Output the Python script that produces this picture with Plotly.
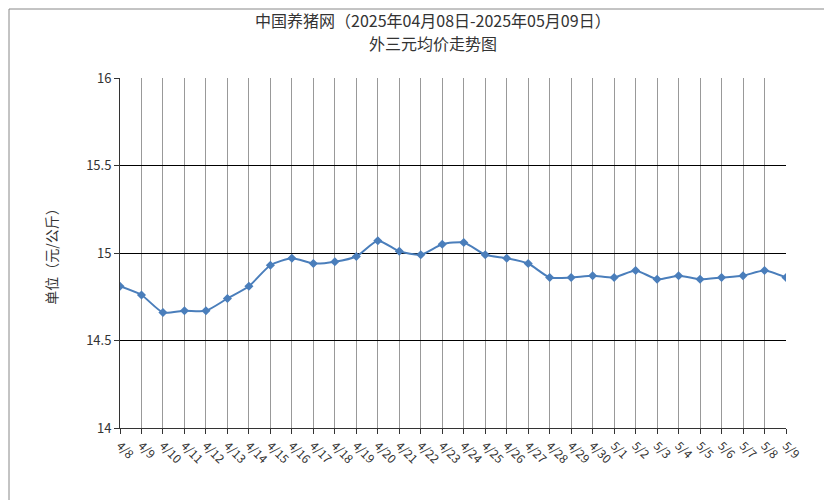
import plotly.graph_objects as go

dates = ["4/8","4/9","4/10","4/11","4/12","4/13","4/14","4/15","4/16","4/17","4/18","4/19","4/20","4/21","4/22","4/23","4/24","4/25","4/26","4/27","4/28","4/29","4/30","5/1","5/2","5/3","5/4","5/5","5/6","5/7","5/8","5/9"]
prices = [14.81,14.76,14.66,14.67,14.67,14.74,14.81,14.93,14.97,14.94,14.95,14.98,15.07,15.01,14.99,15.05,15.06,14.99,14.97,14.94,14.86,14.86,14.87,14.86,14.90,14.85,14.87,14.85,14.86,14.87,14.90,14.86]

fig = go.Figure(go.Scatter(
    x=list(range(len(dates))), y=prices, mode="lines+markers",
    line=dict(color="#4a7ebb", width=2, shape="spline", smoothing=0.6),
    marker=dict(symbol="diamond", size=7, color="#4a7ebb")))

font = "Noto Sans CJK SC"
fig.update_layout(
    width=832, height=500, paper_bgcolor="white", plot_bgcolor="white",
    margin=dict(l=112, r=54, t=70, b=80, autoexpand=False), showlegend=False,
    font=dict(family=font, color="#333", size=13),
    annotations=[
        dict(text="中国养猪网（2025年04月08日-2025年05月09日）", xref="paper", yref="paper",
             x=0.47, y=1+58/350, xanchor="center", yanchor="middle", showarrow=False, font=dict(size=16, color="#333")),
        dict(text="外三元均价走势图", xref="paper", yref="paper",
             x=0.47, y=1+35/350, xanchor="center", yanchor="middle", showarrow=False, font=dict(size=16, color="#333")),
    ],
    xaxis=dict(tickmode="array", tickvals=list(range(len(dates))), ticktext=dates,
               range=[0, len(dates)-1], tickangle=45, showgrid=True, gridcolor="#999", gridwidth=1,
               showline=True, linecolor="#333", ticks="outside", ticklen=5, tickcolor="#333",
               tickfont=dict(size=12)),
    yaxis=dict(range=[14, 16], tickvals=[14,14.5,15,15.5,16], ticktext=["14","14.5","15","15.5","16"],
               showgrid=True, gridcolor="#000", gridwidth=1, showline=True, linecolor="#333",
               ticks="outside", ticklen=5, tickcolor="#333", zeroline=False,
               title=dict(text="单位（元/公斤）", font=dict(size=14), standoff=25), tickfont=dict(size=13)),
    shapes=[dict(type="rect", xref="paper", yref="paper", x0=-111/666, x1=1+53/666, y0=-79/350, y1=1+69/350,
                 line=dict(color="#888", width=1))])
fig.write_html("out.html")
